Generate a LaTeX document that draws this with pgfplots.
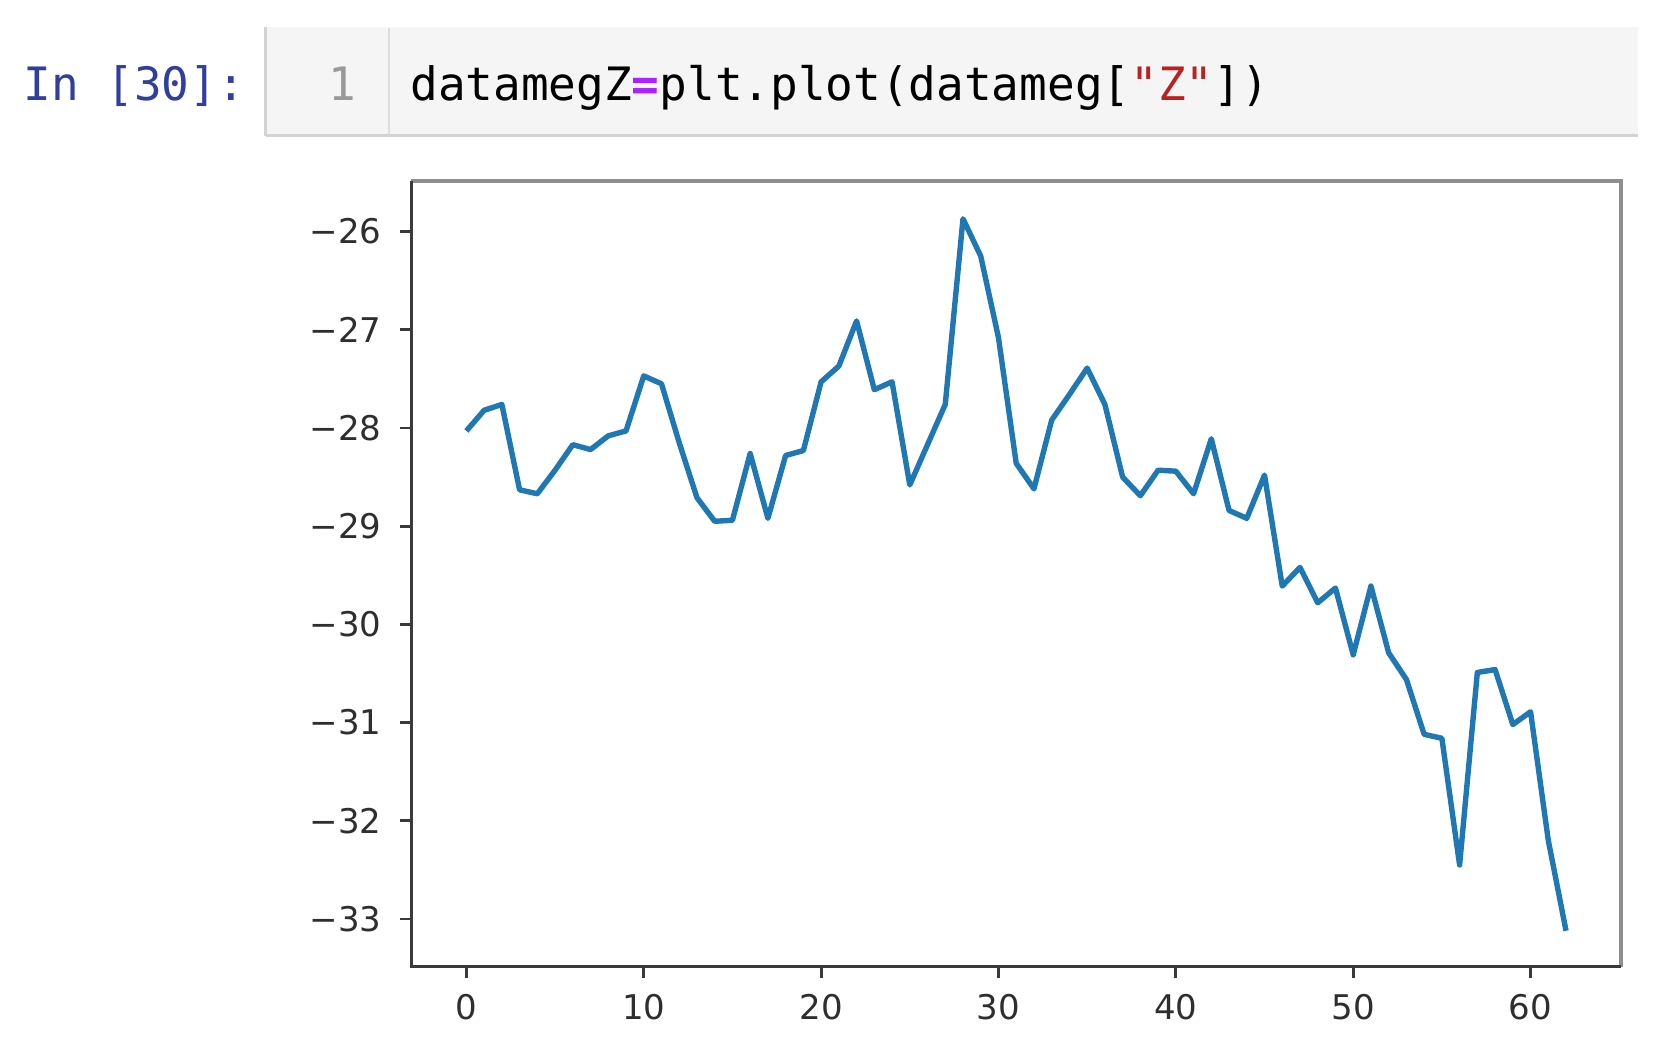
\documentclass[border=0pt]{standalone}
\usepackage{fontspec}
\setmainfont{DejaVu Sans}
\newfontfamily\monofont{DejaVu Sans Mono}
\usepackage{pgfplots}
\pgfplotsset{compat=1.18}
\definecolor{mplblue}{HTML}{1F77B4}
\definecolor{promptblue}{HTML}{303F9F}
\definecolor{cellbg}{HTML}{F5F5F5}
\definecolor{cellborder}{HTML}{D3D3D3}
\definecolor{oppurple}{HTML}{AA22FF}
\definecolor{strred}{HTML}{BA2121}
\definecolor{spinedark}{HTML}{3A3A3A}
\definecolor{spinegray}{HTML}{8E8E8E}

\begin{document}
% 1 unit = 1 px of the 1658x1048 reference; y is negated by hand
\begin{tikzpicture}[x=0.5pt,y=0.5pt]
\path[use as bounding box] (0,0) rectangle (1658,-1048);

% notebook cell
\fill[cellbg] (265.5,-26.7) rectangle (1637.7,-135);
\draw[cellborder, line width=1.2pt] (265.5,-136) -- (265.5,-26.7);
\draw[cellborder, line width=1.5pt] (265.5,-135.5) -- (1637.7,-135.5);
\draw[black!13, line width=1.2pt] (388.7,-28) -- (388.7,-134.5);
\node[anchor=base west, inner sep=0, text=promptblue,
      font=\monofont\fontsize{23}{27}\selectfont] at (23,-100.5) {In [30]:};
\node[anchor=base, inner sep=0, text=black!40,
      font=\monofont\fontsize{23}{27}\selectfont] at (342,-100.5) {1};
\node[anchor=base west, inner sep=0, text=black,
      font=\monofont\fontsize{23}{27}\selectfont] at (410,-100.5)
  {datamegZ\textcolor{oppurple}{\textbf{=}}plt.plot(datameg[\textcolor{strred}{"Z"}])};

\coordinate (axnw) at (411.4,-180.8);
\begin{axis}[
  at={(axnw)}, anchor=north west,
  scale only axis, width=604.8pt, height=392.9pt,
  xmin=-3.1, xmax=65.1, ymin=-33.485, ymax=-25.483,
  xtick={0,10,20,30,40,50,60},
  xticklabels={0,10,20,30,40,50,60},
  ytick={-33,-32,-31,-30,-29,-28,-27,-26},
  yticklabels={−33,−32,−31,−30,−29,−28,−27,−26},
  ticklabel style={font=\fontsize{17}{20}\selectfont, text=black!82},
  yticklabel style={xshift=-6pt},
  xticklabel style={yshift=-4.9pt},
  tick align=outside, tick pos=left,
  major tick length=5.5pt,
  tick style={spinedark, line width=1.4pt},
  axis line style={draw=none},
  clip=false,
]
\addplot[mplblue, line width=2.7pt, line join=round] coordinates {
(0,-28.03)(1,-27.82)(2,-27.76)(3,-28.63)(4,-28.67)(5,-28.43)(6,-28.17)(7,-28.22)
(8,-28.08)(9,-28.03)(10,-27.47)(11,-27.55)(12,-28.15)(13,-28.71)(14,-28.95)(15,-28.94)
(16,-28.26)(17,-28.92)(18,-28.28)(19,-28.23)(20,-27.53)(21,-27.37)(22,-26.91)(23,-27.61)
(24,-27.53)(25,-28.58)(26,-28.17)(27,-27.76)(28,-25.87)(29,-26.25)(30,-27.08)(31,-28.36)
(32,-28.62)(33,-27.92)(34,-27.66)(35,-27.39)(36,-27.76)(37,-28.50)(38,-28.69)(39,-28.43)
(40,-28.44)(41,-28.67)(42,-28.11)(43,-28.84)(44,-28.92)(45,-28.48)(46,-29.61)(47,-29.42)
(48,-29.78)(49,-29.63)(50,-30.31)(51,-29.61)(52,-30.29)(53,-30.56)(54,-31.12)(55,-31.16)
(56,-32.45)(57,-30.49)(58,-30.46)(59,-31.02)(60,-30.89)(61,-32.20)(62,-33.12)};
\draw[spinegray, line width=2pt] (rel axis cs:0,1) -- (rel axis cs:1,1) -- (rel axis cs:1,0);
\draw[spinedark, line width=1.6pt] (rel axis cs:0,1) -- (rel axis cs:0,0) -- (rel axis cs:1,0);
\end{axis}
\end{tikzpicture}
\end{document}
